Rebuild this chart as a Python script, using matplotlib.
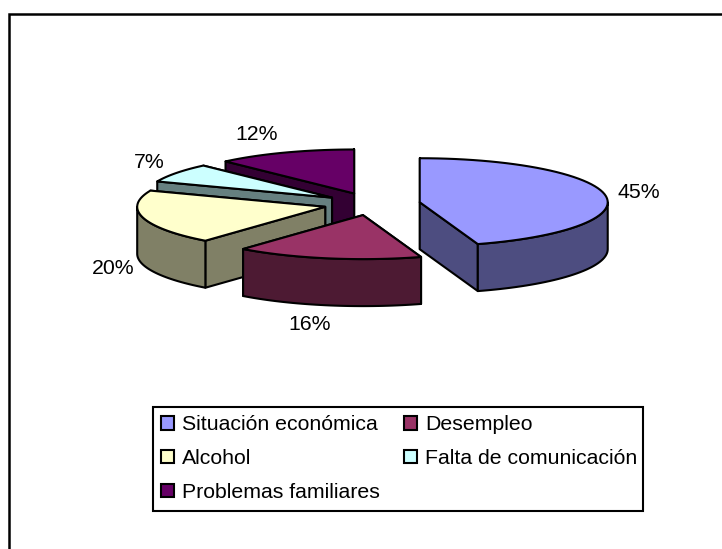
import numpy as np
from matplotlib import pyplot as plt
from matplotlib.patches import Patch, Polygon, Rectangle

labels = ["Situación económica", "Desempleo", "Alcohol", "Falta de comunicación", "Problemas familiares"]
values = [45, 16, 20, 7, 12]
tops = ["#9999FF", "#993366", "#FFFFCC", "#CCFFFF", "#660066"]
sides = ["#4D4D80", "#4D1A33", "#808066", "#668080", "#330033"]
text_pos = [(639, 192), (310, 325), (113, 268), (149, 163), (257, 134)]

# everything is in picture pixels
cx, cy = 372, 204
rx, ry = 188, 44
depth = 47
explode = 0.257
lw = 1.5

plt.rcParams['font.family'] = ['Liberation Sans', 'DejaVu Sans']
fig = plt.figure(dpi=100, figsize=(7.22, 5.49))
ax = fig.add_axes([0, 0, 1, 1])
ax.set_xlim(0, 722)
ax.set_ylim(549, 0)
ax.axis("off")

# frame only shows on the top and left, the rest is cropped away
ax.plot([9, 9, 722], [549, 14, 14], color="black", lw=lw + 0.3, solid_joinstyle="miter")


def xy(ang, ox, oy):
    return np.column_stack([ox + rx * np.sin(ang), oy - ry * np.cos(ang)])


edges = np.radians(np.cumsum([0] + values) * 3.6)
slices = []
for i in range(len(values)):
    a0, a1 = edges[i], edges[i + 1]
    mid = (a0 + a1) / 2
    ox = cx + explode * rx * np.sin(mid)
    oy = cy - explode * ry * np.cos(mid)
    slices.append((i, a0, a1, ox, oy))

# back slices first, the exploded front one last
for i, a0, a1, ox, oy in sorted(slices, key=lambda s: s[4]):
    apex = np.array([[ox, oy]])
    down = np.array([0, depth])
    # radial walls, the one further back first
    for a in sorted([a0, a1], key=lambda v: -np.cos(v)):
        p = xy(np.array([a]), ox, oy)
        wall = np.vstack([apex, p, p + down, apex + down])
        ax.add_patch(Polygon(wall, fc=sides[i], ec="black", lw=lw, joinstyle="round"))
    # outer wall only where the rim faces the viewer
    lo, hi = max(a0, np.pi / 2), min(a1, 3 * np.pi / 2)
    if hi > lo:
        rim = xy(np.linspace(lo, hi, 40), ox, oy)
        ax.add_patch(Polygon(np.vstack([rim, rim[::-1] + down]), fc=sides[i], ec="black", lw=lw, joinstyle="round"))
    arc = xy(np.linspace(a0, a1, 60), ox, oy)
    ax.add_patch(Polygon(np.vstack([apex, arc]), fc=tops[i], ec="black", lw=lw, joinstyle="round"))

for v, (tx, ty) in zip(values, text_pos):
    ax.text(tx, ty, "%d%%" % v, fontsize=15.3, ha="center", va="center", color="black")

# legend box drawn by hand, matplotlib pads both sides the same
ax.add_patch(Rectangle((153, 407), 490, 104, fc="white", ec="black", lw=lw))

# legend fills by column, reference reads by row
order = [0, 2, 4, 1, 3]
handles = [Patch(fc=tops[i], ec="black", lw=lw, label=labels[i]) for i in order]
leg = ax.legend(handles=handles, ncol=2, fontsize=15.3, loc="upper left",
                bbox_to_anchor=(153 / 722, 1 - 407 / 549), borderaxespad=0,
                frameon=False, handlelength=0.61, handleheight=0.61, handletextpad=0.36,
                columnspacing=1.15, labelspacing=0.70, borderpad=0.39)

fig.savefig("out.png", dpi=100)
